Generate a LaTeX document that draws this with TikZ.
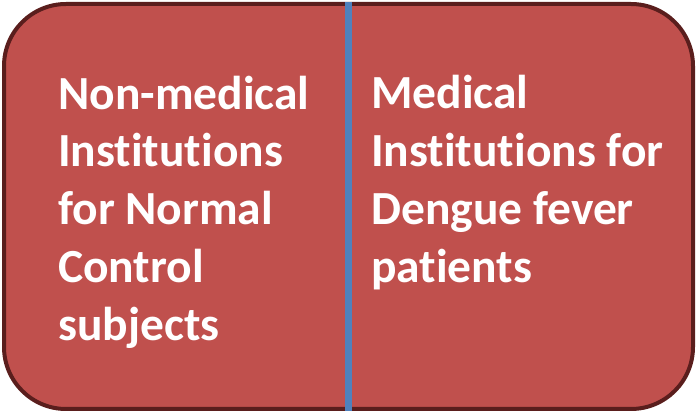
\documentclass[tikz,border=0pt]{standalone}
\usepackage{fontspec}
\setmainfont[Ligatures=NoCommon]{Carlito}
\definecolor{boxred}{HTML}{C0504D}
\definecolor{boxedge}{HTML}{5A1E1D}
\definecolor{divblue}{HTML}{4F81BD}
\begin{document}
\begin{tikzpicture}[x=1pt,y=-1pt]
            \tikzset{panel/.style = {rectangle, rounded corners=62pt, fill=boxred, draw=boxedge,
              line width=4pt, minimum width=689pt, minimum height=405pt, inner sep=0pt}}
            \tikzset{coltext/.style = {text=white, font=\fontsize{47.5}{58}\selectfont\bfseries,
              align=left, inner sep=0pt, anchor=base west}}
            \tikzset{divider/.style = {draw=divblue, line width=7pt}}

            \useasboundingbox (0,0) rectangle (697,414);

            \node[panel] (box) at (348.5,206.5) {};

            \draw[divider] (box.north) -- (box.south);

            % base anchor sits on the last line
            \node[coltext] (nonmed) at (58,341) {Non-medical\\Institutions\\for Normal\\Control\\subjects};
            \node[coltext] (med) at (371,283) {Medical\\Institutions for\\Dengue fever\\patients};
\end{tikzpicture}
\end{document}
